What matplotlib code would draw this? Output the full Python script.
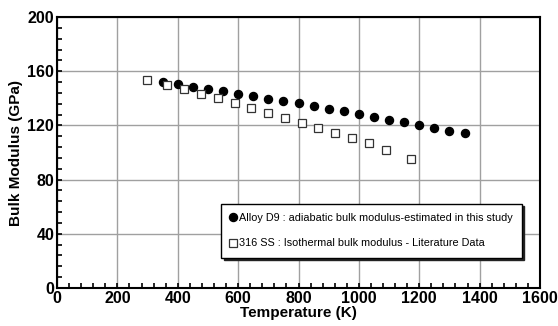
import matplotlib
matplotlib.use("Agg")
import matplotlib.pyplot as plt
from matplotlib.ticker import MultipleLocator
from matplotlib.lines import Line2D

plt.rcParams['font.family'] = ['Liberation Sans', 'DejaVu Sans']

# Data
d9_T = [350, 400, 450, 500, 550, 600, 650, 700, 750, 800, 850, 900, 950,
        1000, 1050, 1100, 1150, 1200, 1250, 1300, 1350]
d9_B = [152.3, 150.3, 148.6, 146.9, 145.4, 143.4, 141.7, 139.7, 138.2, 136.3,
        134.1, 132.1, 130.4, 128.4, 126.2, 124.2, 122.5, 120.3, 118.1, 116.1, 114.2]
ss_T = [298, 366, 422, 477, 533, 589, 644, 700, 755, 811, 866, 922, 977,
        1033, 1089, 1173]
ss_B = [153.7, 149.8, 146.6, 143.4, 140.4, 136.5, 133.1, 129.2, 125.5, 121.8,
        118.3, 114.6, 110.7, 106.8, 101.8, 95.2]
x_ticks = [0, 200, 400, 600, 800, 1000, 1200, 1400, 1600]
y_ticks = [0, 40, 80, 120, 160, 200]
label_d9 = "Alloy D9 : adiabatic bulk modulus-estimated in this study"
label_ss = "316 SS : Isothermal bulk modulus - Literature Data"

fig = plt.figure(figsize=(5.58, 3.26), dpi=100)
ax = fig.add_axes([57/558, 1-288/326, 483/558, 271/326])

ax.plot(d9_T, d9_B, 'o', color='black', markersize=5.8, zorder=3)
ax.plot(ss_T, ss_B, 's', markerfacecolor='white', markeredgecolor='#333333',
        markeredgewidth=0.9, markersize=5.3, zorder=3)

ax.set_xlim(0, 1600)
ax.set_ylim(0, 200)
ax.set_xticks(x_ticks)
ax.set_yticks(y_ticks)
ax.xaxis.set_minor_locator(MultipleLocator(40))
ax.yaxis.set_minor_locator(MultipleLocator(8))
ax.grid(True, which='major', color='#a0a0a0', linewidth=1.0)
ax.set_axisbelow(True)
ax.tick_params(which='both', direction='in', top=False, right=False,
               length=3.5, width=1.2, labelsize=11.5, pad=2)
for lbl in ax.get_xticklabels() + ax.get_yticklabels():
    lbl.set_fontweight('bold')
for s in ax.spines.values():
    s.set_linewidth(1.5)

ax.set_xlabel('Temperature (K)', fontsize=11, fontweight='bold', labelpad=0)
ax.set_ylabel('Bulk Modulus (GPa)', fontsize=11, fontweight='bold', labelpad=3)

handles = [Line2D([], [], ls='none', marker='o', color='black', markersize=5.8),
           Line2D([], [], ls='none', marker='s', markerfacecolor='white',
                  markeredgecolor='#333333', markeredgewidth=0.9, markersize=5.3)]
leg = ax.legend(handles, [label_d9, label_ss], loc='lower left',
                bbox_to_anchor=(0.339, 0.112), fontsize=7.8, frameon=True,
                fancybox=False, shadow={'color': '#222222', 'alpha': 1.0},
                handlelength=0.6, handletextpad=0.2, labelspacing=1.45,
                borderpad=0.85, borderaxespad=0)
leg.get_frame().set_edgecolor('black')
leg.get_frame().set_linewidth(1.0)
leg.get_frame().set_alpha(1.0)

fig.savefig('out.png', dpi=100)
